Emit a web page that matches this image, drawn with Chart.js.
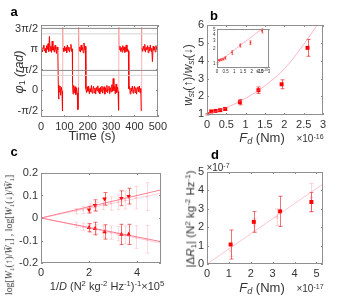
<!DOCTYPE html>
<html>
<head>
<meta charset="utf-8">
<script src="https://cdn.jsdelivr.net/npm/chart.js"></script>
<style>
  body { margin: 0; background: #fff; }
  #fig { position: relative; width: 340px; height: 300px; overflow: hidden;
         font-family: "Liberation Sans", Arial, sans-serif; color: #333; }
  canvas { position: absolute; }
  .lbl { position: absolute; white-space: nowrap; line-height: 1; transform: translate(-50%, -50%); }
  .rot { transform: translate(-50%, -50%) rotate(-90deg); }
  .pl { font-weight: bold; font-size: 13px; color: #000; }
  sub, sup { font-size: 70%; line-height: 0; }
  sub { vertical-align: -0.25em; }
  sup { vertical-align: 0.5em; }
</style>
</head>
<body>
<div id="fig">
  <canvas id="chA" width="170" height="145" style="left:0;top:0"></canvas>
  <canvas id="chB" width="170" height="145" style="left:170px;top:0"></canvas>
  <canvas id="chC" width="170" height="160" style="left:0;top:140px"></canvas>
  <canvas id="chD" width="170" height="160" style="left:170px;top:140px"></canvas>
  <canvas id="chInset" width="68" height="54" style="left:206px;top:25px"></canvas>

  <div class="lbl pl" style="left:14px;top:11px">a</div>
  <div class="lbl pl" style="left:214px;top:15px">b</div>
  <div class="lbl pl" style="left:14px;top:151px">c</div>
  <div class="lbl pl" style="left:215px;top:154px">d</div>

  <div class="lbl" style="left:92px;top:135px;font-size:13px">Time (s)</div>
  <div class="lbl rot" style="left:19px;top:72px;font-size:12.5px"><i>φ</i><sub>1</sub> <i>(rad)</i></div>

  <div class="lbl" style="left:262px;top:137px;font-size:13px"><i>F</i><sub><i>d</i></sub> (Nm)</div>
  <div class="lbl" style="left:310px;top:139px;font-size:10px">×10<sup>-16</sup></div>
  <div class="lbl rot" style="left:188px;top:75px;font-size:12px"><i>w</i><sub><i>st</i></sub>(↑)/<i>w</i><sub><i>st</i></sub>(↓)</div>
  <div class="lbl" style="left:262px;top:72px;font-size:4.5px">×10<sup>-16</sup></div>

  <div class="lbl" style="left:107px;top:286px;font-size:11px">1/<i>D</i> (N<sup>2</sup> kg<sup>-2</sup> Hz<sup>-1</sup>)<sup>-1</sup>×10<sup>5</sup></div>
  <div class="lbl rot" style="left:9px;top:235px;font-size:9.8px;font-family:'Liberation Serif',serif">log[<i>W</i><sub>1</sub>(↑)/<i>W̄</i><sub>1</sub>] , log[<i>W</i><sub>1</sub>(↓)/<i>W̄</i><sub>1</sub>]</div>

  <div class="lbl" style="left:262px;top:287px;font-size:13px"><i>F</i><sub><i>d</i></sub> (Nm)</div>
  <div class="lbl" style="left:310px;top:289px;font-size:10px">×10<sup>-17</sup></div>
  <div class="lbl" style="left:218px;top:168px;font-size:10px">×10<sup>-7</sup></div>
  <div class="lbl rot" style="left:191px;top:219px;font-size:11.5px">|Δ<i>R</i><sub>1</sub>| (N<sup>2</sup> kg<sup>-2</sup> Hz<sup>-1</sup>)</div>
</div>

<script>
// ---- panel a: phase trace ----
const phiTime = [
  0, 3, 6, 9, 12, 15, 18, 21, 24, 27, 30, 33, 36, 39, 42, 45, 48, 51, 54, 57, 60, 63, 66, 69, 72,
  74, 75, 77, 78, 81, 84, 87, 90, 92, 93, 95,
  98, 101, 104, 107, 110, 113, 116, 119, 122, 125, 128, 131, 134,
  135, 137, 140, 143, 146, 149, 152, 155, 158, 160, 161, 163,
  166, 169, 172, 175, 178, 181, 184, 187, 190, 192,
  195, 198, 201, 204, 207, 210, 213, 216, 219, 222, 225, 228, 231, 234, 237, 240, 243, 246, 249, 252,
  255, 258, 261, 264, 267, 270, 273, 276, 279, 282, 285, 288, 291, 294, 297, 300, 303, 306, 309, 312,
  315, 318, 321, 324, 327, 330, 332, 333, 335,
  338, 341, 344, 347, 350, 353, 356, 359, 362, 365, 368, 371, 374, 376,
  379, 382, 385, 388, 391, 394, 397, 400, 403, 406, 409, 412, 415, 418, 421, 424, 427, 429, 430, 432,
  435, 438, 441, 444, 447, 450, 453, 456, 459, 462, 465, 468, 471, 474, 477, 480, 483, 486, 489, 492, 495, 498, 500
];
const phiValue = [
  3.05, 3.30, 2.92, 3.22, 3.45, 2.98, 3.18, 2.85, 3.40, 3.10, 3.55, 2.95, 4.10, 3.00, 3.35, 2.88, 3.75, 3.05, 3.28, 2.90, 3.42, 3.12, 2.80, 3.30, 3.08,
  0.40, -0.70, 0.10, -0.15, 0.30, -0.40, 0.20, -0.10, -1.60, 4.80, 3.20,
  2.95, 3.35, 3.00, 3.25, 2.85, 3.45, 3.05, 3.30, 2.90, 3.20, 3.50, 2.95, 3.15,
  0.50, -0.30, 0.35, -0.20, 0.25, -0.35, 0.15, -0.25, -1.50, 0.20, 4.80, 3.00,
  3.30, 2.90, 3.45, 3.05, 3.25, 2.85, 3.60, 3.10, 3.35, 0.10,
  -0.20, 0.25, -0.10, 0.30, -0.30, 0.10, -0.15, 0.35, -0.25, 0.05, 0.28, -0.22, 0.15, -0.30, 0.20, -0.05, 0.32, -0.18, 0.12, -0.28,
  0.22, -0.10, 0.30, -0.25, 0.08, 0.25, -0.32, 0.15, -0.12, 0.35, -0.20, 0.05, 0.30, -0.28, 0.18, -0.15, 0.40, -0.10, 0.88, -0.05,
  0.25, -0.30, 0.45, -0.20, 0.22, -0.12, -1.55, 4.80, 3.10,
  3.35, 2.95, 3.25, 2.90, 3.40, 3.05, 3.30, 2.88, 3.20, 3.45, 2.95, 3.15, 3.00, 0.10,
  0.25, -0.30, 0.15, -0.10, 0.30, -0.25, 0.05, 0.28, -0.20, 0.18, -0.32, 0.10, 0.25, -0.15, 0.30, -0.22, 0.12, -1.60, 4.80, 3.20,
  2.95, 3.35, 3.05, 3.50, 2.90, 3.25, 3.10, 3.40, 2.85, 3.30, 3.00, 3.45, 2.95, 3.20, 2.17, 3.35, 3.05, 3.28, 2.92, 3.40, 3.10, 3.25, 3.00
];
const levelsDark = [4.72, 1.5];
const levelsLight = [4.3, 1.12];
const timeTicks = [0, 100, 200, 300, 400, 500];
const timeLabels = ['0', '100', '200', '300', '400', '500'];
const phiTicks = [-Math.PI / 2, 0, Math.PI / 2, Math.PI, 3 * Math.PI / 2];
const phiLabels = ['-π/2', '0', 'π/2', 'π', '3π/2'];

// ---- panel b: rate ratio vs torque ----
const fdB = [0, 0.11, 0.22, 0.34, 0.47, 0.85, 1.33, 1.93, 2.6];
const ratioB = [1.0, 1.16, 1.19, 1.23, 1.3, 1.68, 2.35, 2.68, 4.72];
const ratioErrB = [0.04, 0.05, 0.05, 0.06, 0.08, 0.15, 0.18, 0.25, 0.47];
const fitBx = [0, 0.5, 1, 1.5, 2, 2.5, 2.85];
const fitBy = [1, 1.37, 1.9, 2.6, 3.55, 4.9, 6.0];
const fdTicks = [0, 0.5, 1, 1.5, 2, 2.5, 3];
const fdLabels = ['0', '0.5', '1', '1.5', '2', '2.5', '3'];
const ratioTicks = [1, 2, 3, 4, 5, 6];
const ratioLabels = ['1', '2', '3', '4', '5', '6'];
const insetTicks = [1, 2, 3, 4, 5];
const insetLabels = ['1', '2', '3', '4', '5'];

// ---- panel c: log rates vs 1/D ----
const invD = [2.0, 2.25, 2.65, 3.35, 3.65];
const logWUp = [0.037, 0.056, 0.085, 0.088, 0.097];
const logWUpErr = [0.015, 0.025, 0.028, 0.033, 0.035];
const logWDown = [-0.043, -0.047, -0.062, -0.073, -0.073];
const logWDownErr = [0.018, 0.028, 0.032, 0.045, 0.045];
const invDFaint = [1.45, 1.75, 2.05, 2.3, 2.6, 2.9, 3.2, 3.5, 3.95, 4.4];
const logWUpFaint = [0.03, 0.035, 0.045, 0.05, 0.062, 0.065, 0.07, 0.08, 0.09, 0.095];
const logWDownFaint = [-0.03, -0.04, -0.045, -0.05, -0.06, -0.065, -0.07, -0.075, -0.085, -0.095];
const faintErr = [0.012, 0.015, 0.02, 0.02, 0.025, 0.03, 0.032, 0.04, 0.05, 0.062];
const fitCx = [0, 5];
const fitCUp = [0, 0.125];
const fitCUpFaint = [0, 0.11];
const fitCDown = [0, -0.105];
const fitCDownFaint = [0, -0.112];
const invDTicks = [0, 2, 4];
const invDLabels = ['0', '2', '4'];
const logWTicks = [-0.2, -0.1, 0, 0.1, 0.2];
const logWLabels = ['-0.2', '-0.1', '0', '0.1', '0.2'];

// ---- panel d: |dR| vs torque ----
const fdD = [1.08, 2.14, 3.34, 4.77];
const dR = [1.06, 2.29, 2.86, 3.37];
const dRErr = [0.79, 0.56, 0.82, 0.52];
const fdDFaint = [1.08, 2.16, 3.19, 4.77];
const dRFaint = [0.72, 2.1, 2.55, 3.6];
const dRFaintErr = [0.3, 0.38, 0.45, 0.78];
const fitDx = [0, 5.3];
const fitDy = [0, 4.35];
const dTicks = [0, 1, 2, 3, 4, 5];
const dLabels = ['0', '1', '2', '3', '4', '5'];

const FONT = "'Liberation Sans', Arial, sans-serif";
const pts = (xs, ys) => xs.map((x, i) => ({ x: x, y: ys[i] }));

// box round the plot area with small inward ticks
const boxPlugin = {
  id: 'box',
  beforeDraw(chart) {
    const a = chart.chartArea, c = chart.ctx;
    c.save();
    c.fillStyle = '#fff';
    c.fillRect(a.left, a.top, a.right - a.left, a.bottom - a.top);
    c.restore();
  },
  afterDraw(chart, args, opts) {
    const a = chart.chartArea, c = chart.ctx, len = opts.tick || 2;
    c.save();
    c.strokeStyle = '#8f8f8f';
    c.lineWidth = 1;
    c.strokeRect(Math.round(a.left) + 0.5, Math.round(a.top) + 0.5,
                 Math.round(a.right - a.left) - 1, Math.round(a.bottom - a.top) - 1);
    c.beginPath();
    const xs = chart.scales.x, ys = chart.scales.y;
    xs.ticks.forEach(t => {
      const p = Math.round(xs.getPixelForValue(t.value)) + 0.5;
      c.moveTo(p, a.bottom); c.lineTo(p, a.bottom - len);
      c.moveTo(p, a.top); c.lineTo(p, a.top + len);
    });
    ys.ticks.forEach(t => {
      const p = Math.round(ys.getPixelForValue(t.value)) + 0.5;
      c.moveTo(a.left, p); c.lineTo(a.left + len, p);
      c.moveTo(a.right, p); c.lineTo(a.right - len, p);
    });
    c.stroke();
    c.restore();
  }
};

// vertical error bars under the markers
const errorBars = {
  id: 'errorBars',
  beforeDatasetsDraw(chart) {
    const c = chart.ctx, ys = chart.scales.y;
    chart.data.datasets.forEach((ds, i) => {
      if (!ds.errors) return;
      const meta = chart.getDatasetMeta(i);
      c.save();
      c.strokeStyle = ds.errorColor;
      c.lineWidth = 1;
      meta.data.forEach((pt, j) => {
        const v = ds.data[j].y, e = ds.errors[j], w = ds.capWidth || 2;
        const px = Math.round(pt.x) + 0.5;
        const y1 = ys.getPixelForValue(v + e), y2 = ys.getPixelForValue(v - e);
        c.beginPath();
        c.moveTo(px, y1); c.lineTo(px, y2);
        c.moveTo(px - w, y1); c.lineTo(px + w, y1);
        c.moveTo(px - w, y2); c.lineTo(px + w, y2);
        c.stroke();
      });
      c.restore();
    });
  }
};

function axis(min, max, ticks, labels, fit, size) {
  return {
    type: 'linear', min: min, max: max,
    grid: { display: false, drawTicks: false },
    border: { display: false },
    afterBuildTicks: s => { s.ticks = ticks.map(v => ({ value: v })); },
    afterFit: fit,
    ticks: {
      autoSkip: false, maxRotation: 0, minRotation: 0, padding: 3, color: '#333',
      font: { family: FONT, size: size || 11 },
      callback: (v, i) => labels[i]
    }
  };
}

function options(pad, scales, tick) {
  return {
    responsive: false, animation: false, events: [],
    layout: { padding: pad },
    plugins: { legend: { display: false }, tooltip: { enabled: false }, box: { tick: tick || 2 } },
    scales: scales
  };
}

const lineSet = (xs, ys, color) => ({
  data: pts(xs, ys), showLine: true, pointRadius: 0, borderColor: color, borderWidth: 1
});

// ---- a ----
new Chart(document.getElementById('chA'), {
  type: 'scatter',
  plugins: [boxPlugin, errorBars],
  data: {
    datasets: [
      lineSet([0, 500], [levelsLight[0], levelsLight[0]], '#d4d4d4'),
      lineSet([0, 500], [levelsLight[1], levelsLight[1]], '#d4d4d4'),
      lineSet([0, 500], [levelsDark[0], levelsDark[0]], '#8a8a8a'),
      lineSet([0, 500], [levelsDark[1], levelsDark[1]], '#8a8a8a'),
      {
        data: pts(phiTime, phiValue), showLine: true, pointRadius: 0,
        borderColor: '#ff0000', borderWidth: 1,
        segment: {
          borderColor: ctx => Math.max(ctx.p0.parsed.y, ctx.p1.parsed.y) > 4.5 ? 'rgba(255,0,0,0.3)' : '#ff0000'
        }
      }
    ]
  },
  options: options({ top: 25, right: 9, left: 0, bottom: 0 }, {
    x: axis(0, 500, timeTicks, timeLabels, s => { s.height = 28; }),
    y: axis(-2.07, 4.98, phiTicks, phiLabels, s => { s.width = 41; })
  })
});

// ---- b ----
new Chart(document.getElementById('chB'), {
  type: 'scatter',
  plugins: [boxPlugin, errorBars],
  data: {
    datasets: [
      Object.assign(lineSet(fitBx, fitBy, 'rgba(255,110,140,0.5)'), { cubicInterpolationMode: 'monotone' }),
      {
        data: pts(fdB, ratioB), pointStyle: 'rect', pointRadius: 2.8,
        backgroundColor: '#ff0000', borderColor: '#ff0000', borderWidth: 0,
        errors: ratioErrB, errorColor: 'rgba(230,0,0,0.6)', capWidth: 2
      }
    ]
  },
  options: options({ top: 25, right: 17, left: 0, bottom: 0 }, {
    x: axis(0, 3, fdTicks, fdLabels, s => { s.height = 30; }),
    y: axis(0.96, 6, ratioTicks, ratioLabels, s => { s.width = 37; })
  })
});

// ---- b inset (log scale) ----
const insetY = axis(0.8, 5.1, insetTicks, insetLabels, s => { s.width = 11; }, 4.5);
insetY.type = 'logarithmic';
insetY.ticks.padding = 1.5;
const insetX = axis(0, 3, fdTicks, fdLabels, s => { s.height = 11; }, 4.5);
insetX.ticks.padding = 1.5;
new Chart(document.getElementById('chInset'), {
  type: 'scatter',
  plugins: [boxPlugin, errorBars],
  data: {
    datasets: [
      Object.assign(lineSet(fitBx, fitBy, 'rgba(255,110,140,0.5)'), { cubicInterpolationMode: 'monotone' }),
      {
        data: pts(fdB, ratioB), pointStyle: 'rect', pointRadius: 1.2,
        backgroundColor: '#ff3030', borderWidth: 0,
        errors: ratioErrB, errorColor: 'rgba(230,0,0,0.5)', capWidth: 1
      }
    ]
  },
  options: options({ top: 4, right: 5, left: 0, bottom: 0 }, { x: insetX, y: insetY }, 1)
});

// ---- c ----
const triSet = (ys, errs, rot) => ({
  data: pts(invD, ys), pointStyle: 'triangle', pointRadius: 2.6, pointRotation: rot,
  backgroundColor: '#ff0000', borderWidth: 0,
  errors: errs, errorColor: 'rgba(230,0,0,0.55)', capWidth: 2
});
const faintSet = ys => ({
  data: pts(invDFaint, ys), pointRadius: 1, backgroundColor: 'rgba(255,120,140,0.35)', borderWidth: 0,
  errors: faintErr, errorColor: 'rgba(255,90,110,0.22)', capWidth: 2
});
new Chart(document.getElementById('chC'), {
  type: 'scatter',
  plugins: [boxPlugin, errorBars],
  data: {
    datasets: [
      faintSet(logWUpFaint),
      faintSet(logWDownFaint),
      lineSet(fitCx, fitCUpFaint, 'rgba(255,120,140,0.35)'),
      lineSet(fitCx, fitCDownFaint, 'rgba(255,120,140,0.35)'),
      lineSet(fitCx, fitCUp, 'rgba(255,70,100,0.7)'),
      lineSet(fitCx, fitCDown, 'rgba(255,70,100,0.7)'),
      triSet(logWUp, logWUpErr, 180),
      triSet(logWDown, logWDownErr, 0)
    ]
  },
  options: options({ top: 33, right: 9, left: 0, bottom: 0 }, {
    x: axis(0, 5, invDTicks, invDLabels, s => { s.height = 37; }),
    y: axis(-0.2, 0.2, logWTicks, logWLabels, s => { s.width = 41; })
  })
});

// ---- d ----
new Chart(document.getElementById('chD'), {
  type: 'scatter',
  plugins: [boxPlugin, errorBars],
  data: {
    datasets: [
      {
        data: pts(fdDFaint, dRFaint), pointStyle: 'rect', pointRadius: 2,
        backgroundColor: 'rgba(255,120,140,0.3)', borderWidth: 0,
        errors: dRFaintErr, errorColor: 'rgba(255,90,110,0.25)', capWidth: 2.5
      },
      lineSet(fitDx, fitDy, 'rgba(255,130,150,0.45)'),
      {
        data: pts(fdD, dR), pointStyle: 'rect', pointRadius: 2.8,
        backgroundColor: '#ff0000', borderWidth: 0,
        errors: dRErr, errorColor: 'rgba(230,0,0,0.55)', capWidth: 2
      }
    ]
  },
  options: options({ top: 32, right: 17, left: 0, bottom: 0 }, {
    x: axis(0, 5.3, dTicks, dLabels, s => { s.height = 36; }),
    y: axis(0, 5, dTicks, dLabels, s => { s.width = 37; })
  })
});
</script>
</body>
</html>
